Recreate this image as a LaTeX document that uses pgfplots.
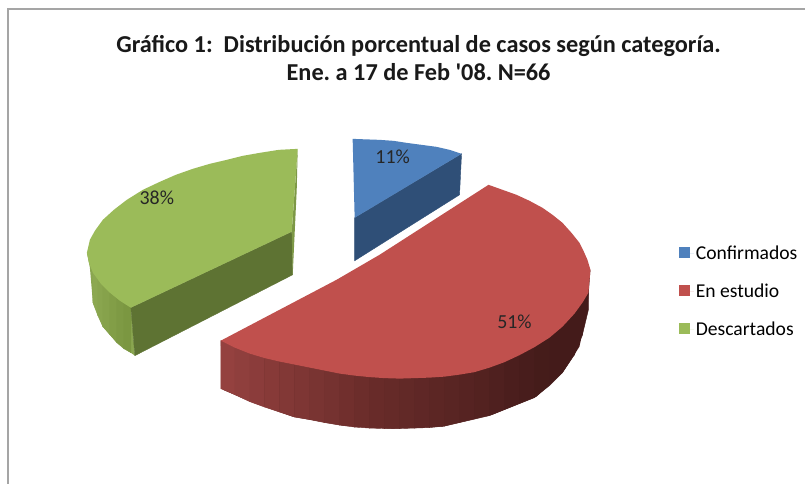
\documentclass[border=0pt]{standalone}
\usepackage{pgfplots}
\pgfplotsset{compat=1.18}
\usepackage{fontspec}
\setmainfont{Carlito}[Ligatures=ResetAll]
\frenchspacing
\definecolor{gtop}{RGB}{155,187,89}
\definecolor{gdark}{RGB}{94,115,51}
\definecolor{gside}{RGB}{138,166,80}
\definecolor{gsliver}{RGB}{125,152,70}
\definecolor{btop}{RGB}{79,129,189}
\definecolor{bdark}{RGB}{47,79,119}
\definecolor{rtop}{RGB}{192,80,77}
\definecolor{rbase}{RGB}{72,28,27}
\definecolor{framec}{RGB}{165,165,165}
\pgfplotsset{
  colormap={redwall}{rgb255=(150,66,64) rgb255=(106,44,42) rgb255=(68,27,26)},
  colormap={greenwall}{rgb255=(142,170,82) rgb255=(122,150,64)},
}
\begin{document}
\begin{tikzpicture}
\begin{axis}[
  scale only axis, width=806bp, height=484bp,
  xmin=0, xmax=806, ymin=0, ymax=484, y dir=reverse,
  hide axis, clip=false, point meta min=0, point meta max=1,
  legend style={at={(axis cs:680,244)},anchor=north west,draw=none,fill=none,inner sep=0pt,outer sep=0pt,
    font=\fontsize{19.7}{22}\selectfont,row sep=19bp},
  legend cell align=left,
  legend image code/.code={\fill[#1] (0bp,-4.5bp) rectangle (11bp,6.5bp); \path (0bp,0bp) -- (14.5bp,0bp);},
]
% page background and frame
\addplot[fill=white,draw=none,forget plot] coordinates {(0,0)(806,0)(806,484)(0,484)} \closedcycle;
\addplot[draw=framec,line width=1.6bp,forget plot] coordinates {(8,484)(8,9)(806,9)};

% Descartados (green)
\addplot[fill=gside,draw=none,forget plot] coordinates {(87,253)(90,268)(93,303)(103,327)(117,343)(135,356)(131,308)} --cycle;
\addplot[surf,shader=flat mean,colormap name=greenwall,mesh/rows=2,mesh/cols=7,point meta=explicit,forget plot] table[meta=c] {
x y c
93 273 0
98 280 0.15
103 286 0.3
110 293 0.5
117 299 0.7
124 304 0.85
131 308 1
93 303 0
98 316 0.15
103 327 0.3
110 335 0.5
117 343 0.7
124 349 0.85
131 353 1
};
\addplot[fill=gdark,draw=gdark,forget plot] coordinates {(131,308)(292,232)(293,275)(135,356)} --cycle;
\addplot[fill=gsliver,draw=none,forget plot] coordinates {(298,149)(297,190)(293,275)(292,232)} --cycle;
\addplot[fill=gtop,draw=none,forget plot] coordinates {
(298,149)(279,150)(260,153)(243,156)(227,160)(210,164)(193,169)(176,175)(160,182)(143,190)(127,200)
(114,210)(103,220)(95,231)(90,240)(87,253)(89,263)(93,273)(101,284)(110,293)(120,301)(131,308)(292,232)} --cycle;

% Confirmados (blue)
\addplot[fill=bdark,draw=bdark,forget plot] coordinates {(355,218)(462,154)(460,195)(355,261)} --cycle;
\addplot[fill=btop,draw=none,forget plot] coordinates {(353,139)(366,139.5)(380,140)(394,141)(407,143)(422,145)(437,147)(450,150)(462,154)(355,218)} --cycle;

% En estudio (red)
\addplot[fill=rbase,draw=none,forget plot] coordinates {
(221,341)(223,390)(253,403)(293,417)(343,426)(393,429)(443,427)(493,415)(537,397)(563,373)(580,347)(588,310)(591,270)} --cycle;
\addplot[surf,shader=flat mean,colormap name=redwall,mesh/rows=2,mesh/cols=27,point meta=explicit,forget plot] table[meta=c] {
x y c
221 341 0
235 348 0.05
250 354 0.1
265 358.5 0.15
280 362 0.2
295 365 0.25
310 368 0.3
325 371 0.35
340 374 0.4
355 376 0.45
370 377.5 0.5
385 378.5 0.54
400 379 0.58
415 378.5 0.62
430 378 0.66
445 377 0.7
460 375 0.74
475 372.5 0.78
490 368 0.83
505 362.5 0.88
520 355.5 0.93
535 347.5 0.97
550 338 1
563 327 1
575 314 1
583 303 1
589 293 1
221 389 0
235 395 0.05
250 402 0.1
265 407.5 0.15
280 412.5 0.2
295 417.5 0.25
310 420 0.3
325 423 0.35
340 425.5 0.4
355 427.5 0.45
370 428.5 0.5
385 429 0.54
400 429 0.58
415 428.5 0.62
430 428 0.66
445 426.5 0.7
460 423 0.74
475 419.5 0.78
490 416 0.83
505 410 0.88
520 404 0.93
535 398 0.97
550 386 1
563 373 1
575 355 1
583 335 1
589 310 1
};
\addplot[fill=rtop,draw=none,forget plot] coordinates {
(221,341)(337,280)(380,255)(489,185)(503,190)(517,195)(530,201)(543,208)(553,215)(563,223)(572,233)(580,243)(584,251)(588,260)(591,270)
(590,282)(589,293)(583,303)(575,314)(563,327)(550,338)(535,347.5)(520,355.5)(505,362.5)(490,368)(475,372.5)(460,375)(445,377)(430,378)(415,378.5)(400,379)(385,378.5)(370,377.5)(355,376)(340,374)(325,371)(310,368)(295,365)(280,362)(265,358.5)(250,354)(235,348)} --cycle;

% legend
\addlegendimage{fill=btop,draw=none}
\addlegendentry{Confirmados}
\addlegendimage{fill=rtop,draw=none}
\addlegendentry{En estudio}
\addlegendimage{fill=gtop,draw=none}
\addlegendentry{Descartados}

% labels
\node[font=\fontsize{20}{22}\selectfont,text=black!85] at (axis cs:393,157) {11\%};
\node[font=\fontsize{20}{22}\selectfont,text=black!85] at (axis cs:157,198) {38\%};
\node[font=\fontsize{20}{22}\selectfont,text=black!85] at (axis cs:515,322) {51\%};
% title
\node[font=\fontsize{24.4}{28}\selectfont\bfseries,align=center,text=black!90] at (axis cs:419,58) {Gráfico 1:\ \ Distribución porcentual de casos según categoría.\\Ene. a 17 de Feb \XeTeXglyph\XeTeXcharglyph"0027\relax 08. N=66};
\end{axis}
\end{tikzpicture}
\end{document}
